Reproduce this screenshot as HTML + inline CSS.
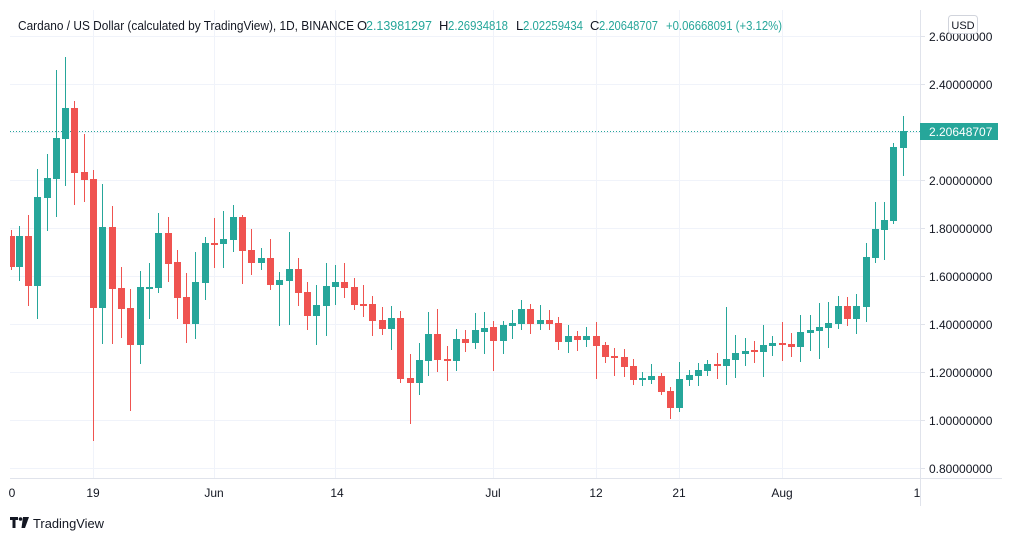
<!DOCTYPE html>
<html><head><meta charset="utf-8"><style>
html,body{margin:0;padding:0;background:#fff;width:1012px;height:541px;overflow:hidden}
svg{display:block;font-family:"Liberation Sans",sans-serif}
</style></head><body>
<svg width="1012" height="541" viewBox="0 0 1012 541" xmlns="http://www.w3.org/2000/svg">
<defs><clipPath id="c"><rect x="10" y="0" width="910" height="478"/></clipPath></defs>
<g stroke="#f0f3fa" stroke-width="1">
<line x1="10" x2="920" y1="36.5" y2="36.5"/><line x1="10" x2="920" y1="84.5" y2="84.5"/><line x1="10" x2="920" y1="132.5" y2="132.5"/><line x1="10" x2="920" y1="180.5" y2="180.5"/><line x1="10" x2="920" y1="228.5" y2="228.5"/><line x1="10" x2="920" y1="276.5" y2="276.5"/><line x1="10" x2="920" y1="324.5" y2="324.5"/><line x1="10" x2="920" y1="372.5" y2="372.5"/><line x1="10" x2="920" y1="420.5" y2="420.5"/><line x1="10" x2="920" y1="468.5" y2="468.5"/>
<line x1="93.5" x2="93.5" y1="10" y2="478"/><line x1="214.5" x2="214.5" y1="10" y2="478"/><line x1="335.5" x2="335.5" y1="10" y2="478"/><line x1="493.5" x2="493.5" y1="10" y2="478"/><line x1="596.5" x2="596.5" y1="10" y2="478"/><line x1="679.5" x2="679.5" y1="10" y2="478"/><line x1="782.5" x2="782.5" y1="10" y2="478"/>
</g>
<g stroke="#e0e3eb" stroke-width="1">
<line x1="920.5" x2="920.5" y1="10" y2="506"/>
<line x1="10" x2="1002" y1="478.5" y2="478.5"/>
</g>
<line x1="10" x2="920" y1="131.5" y2="131.5" stroke="#26a69a" stroke-dasharray="1,2"/>
<g clip-path="url(#c)">
<g fill="#26a69a" stroke="#26a69a">
<path id="gw" stroke-width="1" fill="none" d="M19.5 226V281M37.5 169V319M47.5 154V231M56.5 70V217M65.5 57V186M102.5 184V344M140.5 271V364M149.5 263V319M158.5 213V293M195.5 252V339M205.5 237V300M223.5 211V268M233.5 205V252M261.5 248V270M279.5 272V326M289.5 232V325M316.5 285V345M326.5 263V336M335.5 265V305M391.5 306V350M419.5 343V395M428.5 312V376M456.5 329V371M475.5 313V349M484.5 312V354M503.5 321V354M512.5 310V339M521.5 300V330M540.5 305V330M568.5 325V353M586.5 327V347M642.5 372V386M651.5 364V384M679.5 362V412M689.5 370V386M698.5 363V386M707.5 360V376M726.5 307V385M735.5 335V378M745.5 338V366M763.5 325V377M772.5 336V356M800.5 315V362M810.5 315V351M819.5 303V359M828.5 302V348M838.5 296V329M856.5 294V334M866.5 243V322M875.5 202V263M884.5 202V260M893.5 143V224M903.5 116V176"/>
<g stroke="none">
<rect x="16" y="236" width="7" height="31"/><rect x="34" y="197" width="7" height="89"/><rect x="44" y="178" width="7" height="20"/><rect x="53" y="138" width="7" height="41"/><rect x="62" y="108" width="7" height="31"/><rect x="99" y="227" width="7" height="81"/><rect x="137" y="287" width="7" height="58"/><rect x="146" y="287" width="7" height="2"/><rect x="155" y="233" width="7" height="55"/><rect x="192" y="282" width="7" height="42"/><rect x="202" y="243" width="7" height="40"/><rect x="220" y="239" width="7" height="5"/><rect x="230" y="217" width="7" height="23"/><rect x="258" y="258" width="7" height="5"/><rect x="276" y="280" width="7" height="5"/><rect x="286" y="269" width="7" height="12"/><rect x="313" y="305" width="7" height="11"/><rect x="323" y="286" width="7" height="20"/><rect x="332" y="282" width="7" height="5"/><rect x="388" y="318" width="7" height="11"/><rect x="416" y="360" width="7" height="23"/><rect x="425" y="334" width="7" height="27"/><rect x="453" y="339" width="7" height="22"/><rect x="472" y="330" width="7" height="13"/><rect x="481" y="328" width="7" height="4"/><rect x="500" y="325" width="7" height="16"/><rect x="509" y="323" width="7" height="3"/><rect x="518" y="309" width="7" height="15"/><rect x="537" y="320" width="7" height="4"/><rect x="565" y="336" width="7" height="6"/><rect x="583" y="336" width="7" height="4"/><rect x="639" y="378" width="7" height="2"/><rect x="648" y="376" width="7" height="4"/><rect x="676" y="379" width="7" height="29"/><rect x="686" y="375" width="7" height="5"/><rect x="695" y="370" width="7" height="6"/><rect x="704" y="364" width="7" height="7"/><rect x="723" y="359" width="7" height="7"/><rect x="732" y="353" width="7" height="7"/><rect x="742" y="351" width="7" height="3"/><rect x="760" y="345" width="7" height="7"/><rect x="769" y="343" width="7" height="3"/><rect x="797" y="332" width="7" height="15"/><rect x="807" y="330" width="7" height="3"/><rect x="816" y="327" width="7" height="4"/><rect x="825" y="323" width="7" height="5"/><rect x="835" y="306" width="7" height="18"/><rect x="853" y="306" width="7" height="13"/><rect x="863" y="257" width="7" height="50"/><rect x="872" y="229" width="7" height="29"/><rect x="881" y="220" width="7" height="10"/><rect x="890" y="147" width="7" height="74"/><rect x="900" y="131" width="7" height="17"/>
</g></g>
<g fill="#ef5350" stroke="#ef5350">
<path stroke-width="1" fill="none" d="M11.5 230V270M28.5 215V306M74.5 101V205M84.5 134V202M93.5 170V441M112.5 206V344M121.5 267V338M130.5 289V411M168.5 217V282M177.5 250V319M186.5 273V343M214.5 218V268M242.5 215V284M251.5 229V275M270.5 239V290M298.5 258V306M307.5 282V330M344.5 263V298M354.5 278V310M363.5 285V317M372.5 296V336M382.5 307V335M400.5 311V383M410.5 354V424M437.5 309V372M447.5 346V381M465.5 330V352M493.5 321V371M530.5 304V334M549.5 310V330M558.5 317V350M577.5 331V351M596.5 322V379M605.5 342V363M614.5 348V376M624.5 349V377M633.5 359V385M661.5 373V395M670.5 387V419M717.5 353V379M754.5 341V363M782.5 322V361M791.5 333V357M847.5 297V326"/>
<g stroke="none">
<rect x="8" y="236" width="7" height="31"/><rect x="25" y="236" width="7" height="50"/><rect x="71" y="108" width="7" height="65"/><rect x="81" y="172" width="7" height="8"/><rect x="90" y="179" width="7" height="129"/><rect x="109" y="227" width="7" height="62"/><rect x="118" y="288" width="7" height="21"/><rect x="127" y="308" width="7" height="37"/><rect x="165" y="233" width="7" height="31"/><rect x="174" y="262" width="7" height="36"/><rect x="183" y="297" width="7" height="27"/><rect x="211" y="243" width="7" height="2"/><rect x="239" y="217" width="7" height="34"/><rect x="248" y="250" width="7" height="13"/><rect x="267" y="258" width="7" height="27"/><rect x="295" y="269" width="7" height="24"/><rect x="304" y="292" width="7" height="24"/><rect x="341" y="282" width="7" height="6"/><rect x="351" y="287" width="7" height="18"/><rect x="360" y="304" width="7" height="2"/><rect x="369" y="304" width="7" height="17"/><rect x="379" y="320" width="7" height="9"/><rect x="397" y="318" width="7" height="61"/><rect x="407" y="378" width="7" height="5"/><rect x="434" y="334" width="7" height="26"/><rect x="444" y="359" width="7" height="2"/><rect x="462" y="339" width="7" height="4"/><rect x="490" y="327" width="7" height="14"/><rect x="527" y="309" width="7" height="15"/><rect x="546" y="320" width="7" height="4"/><rect x="555" y="323" width="7" height="19"/><rect x="574" y="336" width="7" height="4"/><rect x="593" y="336" width="7" height="10"/><rect x="602" y="345" width="7" height="12"/><rect x="611" y="356" width="7" height="2"/><rect x="621" y="357" width="7" height="10"/><rect x="630" y="366" width="7" height="14"/><rect x="658" y="376" width="7" height="16"/><rect x="667" y="391" width="7" height="17"/><rect x="714" y="364" width="7" height="2"/><rect x="751" y="350" width="7" height="2"/><rect x="779" y="343" width="7" height="2"/><rect x="788" y="344" width="7" height="3"/><rect x="844" y="306" width="7" height="13"/>
</g></g>
</g>
<g font-size="13" fill="#131722">
<text x="18" y="30" textLength="336" lengthAdjust="spacingAndGlyphs">Cardano / US Dollar (calculated by TradingView), 1D, BINANCE</text>
<text x="357" y="30">O</text><text x="439" y="30">H</text><text x="516" y="30">L</text><text x="590" y="30">C</text>
</g>
<g font-size="13" fill="#26a69a">
<text x="366" y="30" textLength="66" lengthAdjust="spacingAndGlyphs">2.13981297</text>
<text x="448" y="30" textLength="60" lengthAdjust="spacingAndGlyphs">2.26934818</text>
<text x="523" y="30" textLength="60" lengthAdjust="spacingAndGlyphs">2.02259434</text>
<text x="599" y="30" textLength="59" lengthAdjust="spacingAndGlyphs">2.20648707</text>
<text x="666" y="30" textLength="116" lengthAdjust="spacingAndGlyphs">+0.06668091 (+3.12%)</text>
</g>
<g stroke="#e0e3eb"><path d="M920 36.5h5M920 84.5h5M920 180.5h5M920 228.5h5M920 276.5h5M920 324.5h5M920 372.5h5M920 420.5h5M920 468.5h5"/></g>
<g font-size="12" fill="#131722">
<text x="929" y="41">2.60000000</text><text x="929" y="89">2.40000000</text><text x="929" y="185">2.00000000</text><text x="929" y="233">1.80000000</text><text x="929" y="281">1.60000000</text><text x="929" y="329">1.40000000</text><text x="929" y="377">1.20000000</text><text x="929" y="425">1.00000000</text><text x="929" y="473">0.80000000</text>
</g>
<rect x="948.5" y="15.5" width="29" height="18" rx="3" fill="#fff" stroke="#d1d4dc"/>
<text x="963" y="29" font-size="11" fill="#131722" text-anchor="middle">USD</text>
<rect x="920" y="123" width="78" height="17" fill="#26a69a"/>
<text x="929" y="136" font-size="12" fill="#fff">2.20648707</text>
<g font-size="12" fill="#131722" text-anchor="middle">
<text x="12" y="497">0</text><text x="93" y="497">19</text><text x="214" y="497">Jun</text><text x="337" y="497">14</text><text x="493" y="497">Jul</text><text x="596" y="497">12</text><text x="679" y="497">21</text><text x="782" y="497">Aug</text><text x="917" y="497">1</text>
</g>
<g fill="#131722"><path d="M10 517h8v3h-2.5v8h-3v-8H10z"/><circle cx="20.5" cy="519" r="1.8"/><path d="M23 517h6l-4 11h-3.5z"/></g>
<text x="33" y="528" font-size="13" fill="#131722" textLength="71" lengthAdjust="spacingAndGlyphs">TradingView</text>
</svg>
</body></html>
